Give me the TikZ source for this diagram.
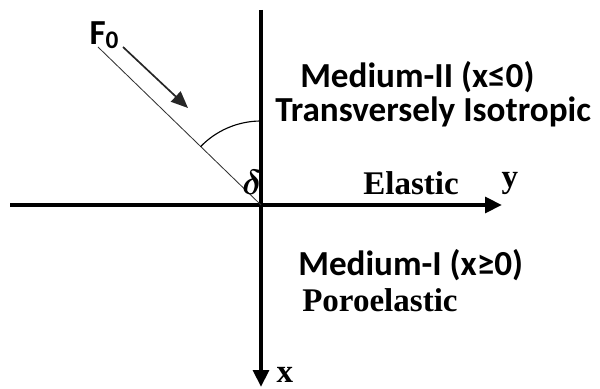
\documentclass[tikz,border=0pt]{standalone}
\usepackage{fontspec}
\usepackage{amsmath}
\newfontfamily\calfont{Carlito}
\newfontfamily\timesfont{Liberation Serif}
\usetikzlibrary{arrows.meta}
\tikzset{
  axis/.style={line width=3pt, draw=black, -{Triangle[length=12pt,width=11pt]}},
  axisplain/.style={line width=3pt, draw=black},
  forceline/.style={line width=0.6pt, draw=black!80},
  forcearrow/.style={line width=1.2pt, draw=black!85, -{Triangle[length=12pt,width=10pt]}},
  anglearc/.style={line width=0.8pt, draw=black},
  medlabel/.style={font=\calfont\bfseries\fontsize{25}{29}\selectfont, inner sep=0pt, anchor=west},
  typelabel/.style={font=\timesfont\bfseries\fontsize{23.5}{27}\selectfont, inner sep=0pt, anchor=west},
}

\begin{document}
\begin{tikzpicture}
\useasboundingbox (0,0) rectangle (15.0,9.725);
\coordinate (o) at (6.525,4.600);
\coordinate (xtop) at (6.525,9.475);
\coordinate (xend) at (6.525,0.050);
\coordinate (yleft) at (0.250,4.600);
\coordinate (yend) at (12.550,4.600);
\coordinate (ftail) at (2.450,8.550);
\coordinate (atail) at (3.075,8.550);
\coordinate (ahead) at (4.700,7.025);
\draw[axisplain] (xtop) -- (o);
\draw[axis] (o) -- (xend);
\draw[axis] (yleft) -- (yend);
\draw[forceline] (ftail) -- (o);
\draw[forcearrow] (atail) -- (ahead);
\draw[anglearc] ([shift={(90:2.1)}]o) arc (90:136:2.1);
\node[font=\calfont\bfseries\fontsize{25}{29}\selectfont, inner sep=0pt] (f0) at (2.600,8.850) {F\raisebox{-0.25ex}{\fontsize{18}{20}\selectfont 0}};
\node[font=\fontsize{24}{28}\selectfont, inner sep=0pt] (delta) at (6.300,5.175) {$\boldsymbol{\delta}$};
\node[medlabel] (med2) at (7.500,7.800) {Medium-II (x≤0)};
\node[medlabel] (trans) at (6.875,6.925) {Transversely Isotropic};
\node[typelabel] (elastic) at (9.075,5.150) {Elastic};
\node[typelabel, anchor=center] (ylab) at (12.750,5.150) {y};
\node[medlabel] (med1) at (7.450,3.100) {Medium-I (x≥0)};
\node[typelabel] (poro) at (7.550,2.225) {Poroelastic};
\node[typelabel, anchor=center] (xlab) at (7.125,0.350) {x};
\end{tikzpicture}
\end{document}
